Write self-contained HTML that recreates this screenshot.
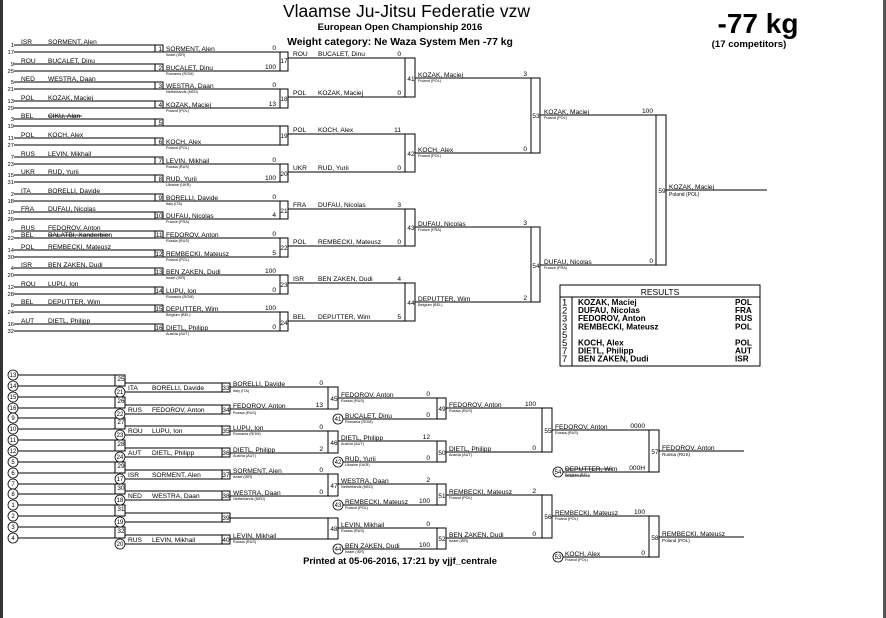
<!DOCTYPE html>
<html><head><meta charset="utf-8"><style>
html,body{margin:0;padding:0;background:#fff}
svg{display:block}
text{font-family:"Liberation Sans",Arial,sans-serif;fill:#000}
.n{font-size:6.6px}
.c{font-size:3.8px}
.b{font-size:6.4px}
.s{font-size:6.6px;text-anchor:end}
.bn{font-size:6.4px;text-anchor:middle}
</style></head><body>
<svg width="886" height="618" viewBox="0 0 886 618" xmlns="http://www.w3.org/2000/svg">
<rect x="0" y="0" width="886" height="618" fill="#fff"/>
<rect x="0" y="0" width="3" height="618" fill="#333"/>
<rect x="883" y="0" width="3" height="618" fill="#555"/>

<!-- header -->
<text x="283" y="17" style="font-size:17.5px">Vlaamse Ju-Jitsu Federatie vzw</text>
<text x="400" y="30" text-anchor="middle" style="font-size:9.6px;font-weight:bold">European Open Championship 2016</text>
<text x="400" y="45" text-anchor="middle" style="font-size:10.4px;font-weight:bold">Weight category: Ne Waza System Men -77 kg</text>
<text x="758" y="33" text-anchor="middle" style="font-size:28px;font-weight:bold">-77 kg</text>
<text x="749" y="47" text-anchor="middle" style="font-size:9.6px;font-weight:bold">(17 competitors)</text>

<g stroke="#000" stroke-width="1" fill="none" shape-rendering="crispEdges">
<path d="M14 45H155M14 52H163M14 64H155M14 71H163M14 82H155M14 89H163M14 101H155M14 108H163M14 119H155M14 126H163M14 138H155M14 145H163M14 157H155M14 164H163M14 175H155M14 182H163M14 194H155M14 201H163M14 212H155M14 219H163M14 231H155M14 238H163M14 250H155M14 257H163M14 268H155M14 275H163M14 287H155M14 294H163M14 305H155M14 312H163M14 324H155M14 331H163"/>
<rect x="155" y="45" width="8" height="7"/><rect x="155" y="64" width="8" height="7"/><rect x="155" y="82" width="8" height="7"/><rect x="155" y="101" width="8" height="7"/><rect x="155" y="119" width="8" height="7"/><rect x="155" y="138" width="8" height="7"/><rect x="155" y="157" width="8" height="7"/><rect x="155" y="175" width="8" height="7"/><rect x="155" y="194" width="8" height="7"/><rect x="155" y="212" width="8" height="7"/><rect x="155" y="231" width="8" height="7"/><rect x="155" y="250" width="8" height="7"/><rect x="155" y="268" width="8" height="7"/><rect x="155" y="287" width="8" height="7"/><rect x="155" y="305" width="8" height="7"/><rect x="155" y="324" width="8" height="7"/>
<path d="M163 52H280M163 71H280M163 89H280M163 108H280M163 126H280M163 145H280M163 164H280M163 182H280M163 201H280M163 219H280M163 238H280M163 257H280M163 275H280M163 294H280M163 312H280M163 331H280"/>
<rect x="280" y="52" width="8" height="19"/><rect x="280" y="89" width="8" height="19"/><rect x="280" y="126" width="8" height="19"/><rect x="280" y="164" width="8" height="18"/><rect x="280" y="201" width="8" height="18"/><rect x="280" y="238" width="8" height="19"/><rect x="280" y="275" width="8" height="19"/><rect x="280" y="312" width="8" height="19"/>
<path d="M288 58H405M288 97H405M288 134H405M288 172H405M288 209H405M288 246H405M288 283H405M288 321H405"/>
<rect x="405" y="58" width="10" height="39"/><rect x="405" y="134" width="10" height="38"/><rect x="405" y="209" width="10" height="37"/><rect x="405" y="283" width="10" height="38"/>
<path d="M415 78H531M415 153H531M415 227H531M415 302H531"/>
<rect x="531" y="78" width="9" height="75"/><rect x="531" y="227" width="9" height="75"/>
<path d="M540 115H656M540 265H656"/>
<rect x="656" y="115" width="10" height="150"/>
<path d="M666 190H767"/>

<rect x="560" y="285" width="200" height="81"/>
<path d="M560 297H760M572 297V366"/>

<g>
<path d="M18 375H115M18 386H115M18 397H115M18 408H115M18 418H115M18 429H115M18 440H115M18 451H115M18 462H115M18 473H115M18 484H115M18 494H115M18 505H115M18 516H115M18 527H115M18 538H115"/>
<rect x="115" y="375" width="10" height="11"/><rect x="115" y="397" width="10" height="11"/><rect x="115" y="418" width="10" height="11"/><rect x="115" y="440" width="10" height="11"/><rect x="115" y="462" width="10" height="11"/><rect x="115" y="484" width="10" height="10"/><rect x="115" y="505" width="10" height="11"/><rect x="115" y="527" width="10" height="11"/>
<path d="M125 383H222M125 392H222M125 405H222M125 414H222M125 426H222M125 435H222M125 448H222M125 457H222M125 470H222M125 479H222M125 491H222M125 500H222M125 513H222M125 522H222M125 535H222M125 544H222"/>
<rect x="222" y="383" width="8" height="9"/><rect x="222" y="405" width="8" height="9"/><rect x="222" y="426" width="8" height="9"/><rect x="222" y="448" width="8" height="9"/><rect x="222" y="470" width="8" height="9"/><rect x="222" y="491" width="8" height="9"/><rect x="222" y="513" width="8" height="9"/><rect x="222" y="535" width="8" height="9"/>
<path d="M230 387H328M230 409H328M230 431H328M230 453H328M230 474H328M230 496H328M230 518H328M230 539H328"/>
<rect x="328" y="387" width="10" height="22"/><rect x="328" y="431" width="10" height="22"/><rect x="328" y="474" width="10" height="22"/><rect x="328" y="518" width="10" height="21"/>
<path d="M338 398H437M343 419H437M338 441H437M343 462H437M338 484H437M343 505H437M338 528H437M343 549H437"/>
<rect x="437" y="398" width="9" height="21"/><rect x="437" y="441" width="9" height="21"/><rect x="437" y="484" width="9" height="21"/><rect x="437" y="528" width="9" height="21"/>
<path d="M446 408H542M446 452H542M446 495H542M446 538H542"/>
<rect x="542" y="408" width="10" height="44"/><rect x="542" y="495" width="10" height="43"/>
<path d="M552 430H649M563 472H649M552 516H649M563 557H649"/>
<rect x="649" y="430" width="10" height="42"/><rect x="649" y="516" width="10" height="41"/>
<path d="M659 451H744M659 537H744"/>
</g>
</g>
<g stroke="#000" stroke-width="0.8" fill="#fff">
<circle cx="13" cy="375" r="5"/><circle cx="13" cy="386" r="5"/><circle cx="13" cy="397" r="5"/><circle cx="13" cy="408" r="5"/><circle cx="13" cy="418" r="5"/><circle cx="13" cy="429" r="5"/><circle cx="13" cy="440" r="5"/><circle cx="13" cy="451" r="5"/><circle cx="13" cy="462" r="5"/><circle cx="13" cy="473" r="5"/><circle cx="13" cy="484" r="5"/><circle cx="13" cy="494" r="5"/><circle cx="13" cy="505" r="5"/><circle cx="13" cy="516" r="5"/><circle cx="13" cy="527" r="5"/><circle cx="13" cy="538" r="5"/>
<circle cx="120" cy="392" r="5"/><circle cx="120" cy="414" r="5"/><circle cx="120" cy="435" r="5"/><circle cx="120" cy="457" r="5"/><circle cx="120" cy="479" r="5"/><circle cx="120" cy="500" r="5"/><circle cx="120" cy="522" r="5"/><circle cx="120" cy="544" r="5"/>
<circle cx="338" cy="419" r="5"/><circle cx="338" cy="462" r="5"/><circle cx="338" cy="505" r="5"/><circle cx="338" cy="549" r="5"/>
<circle cx="558" cy="472" r="5"/><circle cx="558" cy="557" r="5"/>
</g>
<g class="bn" style="font-size:6px;text-anchor:middle">
<text x="13" y="377">13</text><text x="13" y="388">14</text><text x="13" y="399">15</text><text x="13" y="410">16</text><text x="13" y="420">9</text><text x="13" y="431">10</text><text x="13" y="442">11</text><text x="13" y="453">12</text><text x="13" y="464">5</text><text x="13" y="475">6</text><text x="13" y="486">7</text><text x="13" y="496">8</text><text x="13" y="507">1</text><text x="13" y="518">2</text><text x="13" y="529">3</text><text x="13" y="540">4</text>
<text x="120" y="394">21</text><text x="120" y="416">22</text><text x="120" y="437">23</text><text x="120" y="459">24</text><text x="120" y="481">17</text><text x="120" y="502">18</text><text x="120" y="524">19</text><text x="120" y="546">20</text>
<text x="338" y="421">41</text><text x="338" y="464">42</text><text x="338" y="507">43</text><text x="338" y="551">44</text>
<text x="558" y="474">54</text><text x="558" y="559">53</text>
</g>

<g class="n">
<g text-anchor="end" style="font-size:5.8px">
<text x="14" y="47">1</text><text x="14" y="54">17</text><text x="14" y="66">9</text><text x="14" y="73">25</text><text x="14" y="84">5</text><text x="14" y="91">21</text><text x="14" y="103">13</text><text x="14" y="110">29</text><text x="14" y="121">3</text><text x="14" y="128">19</text><text x="14" y="140">11</text><text x="14" y="147">27</text><text x="14" y="159">7</text><text x="14" y="166">23</text><text x="14" y="177">15</text><text x="14" y="184">31</text><text x="14" y="196">2</text><text x="14" y="203">18</text><text x="14" y="214">10</text><text x="14" y="221">26</text><text x="14" y="233">6</text><text x="14" y="240">22</text><text x="14" y="252">14</text><text x="14" y="259">30</text><text x="14" y="270">4</text><text x="14" y="277">20</text><text x="14" y="289">12</text><text x="14" y="296">28</text><text x="14" y="307">8</text><text x="14" y="314">24</text><text x="14" y="326">16</text><text x="14" y="333">32</text>
</g>
<text x="21" y="44">ISR</text><text x="48" y="44">SORMENT, Alen</text>
<text x="21" y="63">ROU</text><text x="48" y="63">BUCALET, Dinu</text>
<text x="21" y="81">NED</text><text x="48" y="81">WESTRA, Daan</text>
<text x="21" y="100">POL</text><text x="48" y="100">KOZAK, Maciej</text>
<text x="21" y="118">BEL</text><text x="48" y="118">CIKU, Alan</text>
<text x="21" y="137">POL</text><text x="48" y="137">KOCH, Alex</text>
<text x="21" y="156">RUS</text><text x="48" y="156">LEVIN, Mikhail</text>
<text x="21" y="174">UKR</text><text x="48" y="174">RUD, Yurii</text>
<text x="21" y="193">ITA</text><text x="48" y="193">BORELLI, Davide</text>
<text x="21" y="211">FRA</text><text x="48" y="211">DUFAU, Nicolas</text>
<text x="21" y="230">RUS</text><text x="48" y="230">FEDOROV, Anton</text>
<text x="21" y="237">BEL</text><text x="48" y="237">BALATBI, Xanderbien</text>
<text x="21" y="249">POL</text><text x="48" y="249">REMBECKI, Mateusz</text>
<text x="21" y="267">ISR</text><text x="48" y="267">BEN ZAKEN, Dudi</text>
<text x="21" y="286">ROU</text><text x="48" y="286">LUPU, Ion</text>
<text x="21" y="304">BEL</text><text x="48" y="304">DEPUTTER, Wim</text>
<text x="21" y="323">AUT</text><text x="48" y="323">DIETL, Philipp</text>
</g>
<path d="M48 116H82M48 235H110" stroke="#000" stroke-width="0.7"/>

<g class="b" text-anchor="end">
<text x="162" y="51">1</text><text x="162" y="70">2</text><text x="162" y="88">3</text><text x="162" y="107">4</text><text x="162" y="125">5</text><text x="162" y="144">6</text><text x="162" y="163">7</text><text x="162" y="181">8</text><text x="162" y="200">9</text><text x="162.5" y="218">10</text><text x="162.5" y="237">11</text><text x="162.5" y="256">12</text><text x="162.5" y="274">13</text><text x="162.5" y="293">14</text><text x="162.5" y="311">15</text><text x="162.5" y="330">16</text>
</g>
<g class="n">
<text x="166" y="51">SORMENT, Alen</text><text x="166" y="70">BUCALET, Dinu</text><text x="166" y="88">WESTRA, Daan</text><text x="166" y="107">KOZAK, Maciej</text><text x="166" y="144">KOCH, Alex</text><text x="166" y="163">LEVIN, Mikhail</text><text x="166" y="181">RUD, Yurii</text><text x="166" y="200">BORELLI, Davide</text><text x="166" y="218">DUFAU, Nicolas</text><text x="166" y="237">FEDOROV, Anton</text><text x="166" y="256">REMBECKI, Mateusz</text><text x="166" y="274">BEN ZAKEN, Dudi</text><text x="166" y="293">LUPU, Ion</text><text x="166" y="311">DEPUTTER, Wim</text><text x="166" y="330">DIETL, Philipp</text>
</g>
<g class="c">
<text x="166" y="56">Israel (ISR)</text><text x="166" y="75">Romania (ROM)</text><text x="166" y="93">Netherlands (NED)</text><text x="166" y="112">Poland (POL)</text><text x="166" y="149">Poland (POL)</text><text x="166" y="168">Russia (RUS)</text><text x="166" y="186">Ukraine (UKR)</text><text x="166" y="205">Italy (ITA)</text><text x="166" y="223">France (FRA)</text><text x="166" y="242">Russia (RUS)</text><text x="166" y="261">Poland (POL)</text><text x="166" y="279">Israel (ISR)</text><text x="166" y="298">Romania (ROM)</text><text x="166" y="316">Belgium (BEL)</text><text x="166" y="335">Austria (AUT)</text>
</g>
<g class="s">
<text x="276" y="50">0</text><text x="276" y="69">100</text><text x="276" y="87">0</text><text x="276" y="106">13</text><text x="276" y="162">0</text><text x="276" y="180">100</text><text x="276" y="199">0</text><text x="276" y="217">4</text><text x="276" y="236">0</text><text x="276" y="255">5</text><text x="276" y="273">100</text><text x="276" y="292">0</text><text x="276" y="310">100</text><text x="276" y="329">0</text>
</g>
<g class="b" text-anchor="end">
<text x="287.5" y="63">17</text><text x="287.5" y="101">18</text><text x="287.5" y="138">19</text><text x="287.5" y="176">20</text><text x="287.5" y="213">21</text><text x="287.5" y="250">22</text><text x="287.5" y="287">23</text><text x="287.5" y="325">24</text>
</g>
<g class="n">
<text x="293" y="56">ROU</text><text x="318" y="56">BUCALET, Dinu</text>
<text x="293" y="95">POL</text><text x="318" y="95">KOZAK, Maciej</text>
<text x="293" y="132">POL</text><text x="318" y="132">KOCH, Alex</text>
<text x="293" y="170">UKR</text><text x="318" y="170">RUD, Yurii</text>
<text x="293" y="207">FRA</text><text x="318" y="207">DUFAU, Nicolas</text>
<text x="293" y="244">POL</text><text x="318" y="244">REMBECKI, Mateusz</text>
<text x="293" y="281">ISR</text><text x="318" y="281">BEN ZAKEN, Dudi</text>
<text x="293" y="319">BEL</text><text x="318" y="319">DEPUTTER, Wim</text>
</g>
<g class="s">
<text x="401" y="56">0</text><text x="401" y="95">0</text><text x="401" y="132">11</text><text x="401" y="170">0</text><text x="401" y="207">3</text><text x="401" y="244">0</text><text x="401" y="281">4</text><text x="401" y="319">5</text>
</g>
<g class="b" text-anchor="end">
<text x="414.5" y="81">41</text><text x="414.5" y="156">42</text><text x="414.5" y="230">43</text><text x="414.5" y="305">44</text>
<text x="539.5" y="118">53</text><text x="539.5" y="268">54</text><text x="665.5" y="193">59</text>
</g>
<g class="n">
<text x="418" y="77">KOZAK, Maciej</text><text x="418" y="152">KOCH, Alex</text><text x="418" y="226">DUFAU, Nicolas</text><text x="418" y="301">DEPUTTER, Wim</text>
<text x="544" y="114">KOZAK, Maciej</text><text x="544" y="264">DUFAU, Nicolas</text>
<text x="669" y="189" style="font-size:6.6px">KOZAK, Maciej</text>
</g>
<g class="c">
<text x="418" y="82">Poland (POL)</text><text x="418" y="157">Poland (POL)</text><text x="418" y="231">France (FRA)</text><text x="418" y="306">Belgium (BEL)</text>
<text x="544" y="119">Poland (POL)</text><text x="544" y="269">France (FRA)</text>
<text x="669" y="196" style="font-size:5px">Poland (POL)</text>
</g>
<g class="s">
<text x="527" y="76">3</text><text x="527" y="151">0</text><text x="527" y="225">3</text><text x="527" y="300">2</text>
<text x="653" y="113">100</text><text x="653" y="263">0</text>
</g>

<text x="660" y="295" text-anchor="middle" style="font-size:8.5px">RESULTS</text>
<g style="font-size:9.4px">
<text x="562" y="305.5">1</text><text x="562" y="313.6">2</text><text x="562" y="321.7">3</text><text x="562" y="329.8">3</text><text x="562" y="337.9">5</text><text x="562" y="346">5</text><text x="562" y="354.1">7</text><text x="562" y="362.2">7</text>
</g>
<g style="font-size:8.2px;font-weight:bold">
<text x="578" y="305">KOZAK, Maciej</text><text x="578" y="313.1">DUFAU, Nicolas</text><text x="578" y="321.2">FEDOROV, Anton</text><text x="578" y="329.3">REMBECKI, Mateusz</text><text x="578" y="345.5">KOCH, Alex</text><text x="578" y="353.6">DIETL, Philipp</text><text x="578" y="361.7">BEN ZAKEN, Dudi</text>
<text x="735" y="305">POL</text><text x="735" y="313.1">FRA</text><text x="735" y="321.2">RUS</text><text x="735" y="329.3">POL</text><text x="735" y="345.5">POL</text><text x="735" y="353.6">AUT</text><text x="735" y="361.7">ISR</text>
</g>

<g class="b" text-anchor="end">
<text x="124.5" y="381">25</text><text x="124.5" y="403">26</text><text x="124.5" y="424">27</text><text x="124.5" y="446">28</text><text x="124.5" y="468">29</text><text x="124.5" y="490">30</text><text x="124.5" y="511">31</text><text x="124.5" y="533">32</text>
<text x="229.5" y="390">33</text><text x="229.5" y="412">34</text><text x="229.5" y="433">35</text><text x="229.5" y="455">36</text><text x="229.5" y="477">37</text><text x="229.5" y="498">38</text><text x="229.5" y="520">39</text><text x="229.5" y="542">40</text>
<text x="337.5" y="401">45</text><text x="337.5" y="445">46</text><text x="337.5" y="488">47</text><text x="337.5" y="531">48</text>
<text x="445.5" y="411">49</text><text x="445.5" y="455">50</text><text x="445.5" y="498">51</text><text x="445.5" y="541">52</text>
<text x="551.5" y="433">55</text><text x="551.5" y="519">56</text>
<text x="658.5" y="454">57</text><text x="658.5" y="540">58</text>
</g>
<g class="n">
<text x="128" y="390">ITA</text><text x="152" y="390">BORELLI, Davide</text>
<text x="128" y="412">RUS</text><text x="152" y="412">FEDOROV, Anton</text>
<text x="128" y="433">ROU</text><text x="152" y="433">LUPU, Ion</text>
<text x="128" y="455">AUT</text><text x="152" y="455">DIETL, Philipp</text>
<text x="128" y="477">ISR</text><text x="152" y="477">SORMENT, Alen</text>
<text x="128" y="498">NED</text><text x="152" y="498">WESTRA, Daan</text>
<text x="128" y="542">RUS</text><text x="152" y="542">LEVIN, Mikhail</text>
<text x="233" y="386">BORELLI, Davide</text><text x="233" y="408">FEDOROV, Anton</text><text x="233" y="430">LUPU, Ion</text><text x="233" y="452">DIETL, Philipp</text><text x="233" y="473">SORMENT, Alen</text><text x="233" y="495">WESTRA, Daan</text><text x="233" y="538">LEVIN, Mikhail</text>
<text x="341" y="397">FEDOROV, Anton</text><text x="345" y="418">BUCALET, Dinu</text><text x="341" y="440">DIETL, Philipp</text><text x="345" y="461">RUD, Yurii</text><text x="341" y="483">WESTRA, Daan</text><text x="345" y="504">REMBECKI, Mateusz</text><text x="341" y="527">LEVIN, Mikhail</text><text x="345" y="548">BEN ZAKEN, Dudi</text>
<text x="449" y="407">FEDOROV, Anton</text><text x="449" y="451">DIETL, Philipp</text><text x="449" y="494">REMBECKI, Mateusz</text><text x="449" y="537">BEN ZAKEN, Dudi</text>
<text x="555" y="429">FEDOROV, Anton</text><text x="565" y="471">DEPUTTER, Wim</text><text x="555" y="515">REMBECKI, Mateusz</text><text x="565" y="556">KOCH, Alex</text>
<text x="662" y="450">FEDOROV, Anton</text><text x="662" y="536">REMBECKI, Mateusz</text>
</g>
<path d="M565 469H612M565 476H590" stroke="#000" stroke-width="0.7"/>
<g class="c">
<text x="233" y="392">Italy (ITA)</text><text x="233" y="414">Russia (RUS)</text><text x="233" y="435">Romania (ROM)</text><text x="233" y="457">Austria (AUT)</text><text x="233" y="478">Israel (ISR)</text><text x="233" y="500">Netherlands (NED)</text><text x="233" y="543">Russia (RUS)</text>
<text x="341" y="402">Russia (RUS)</text><text x="345" y="423">Romania (ROM)</text><text x="341" y="445">Austria (AUT)</text><text x="345" y="466">Ukraine (UKR)</text><text x="341" y="488">Netherlands (NED)</text><text x="345" y="509">Poland (POL)</text><text x="341" y="532">Russia (RUS)</text><text x="345" y="553">Israel (ISR)</text>
<text x="449" y="412">Russia (RUS)</text><text x="449" y="456">Austria (AUT)</text><text x="449" y="499">Poland (POL)</text><text x="449" y="542">Israel (ISR)</text>
<text x="555" y="434">Russia (RUS)</text><text x="565" y="476">Belgium (BEL)</text><text x="555" y="520">Poland (POL)</text><text x="565" y="561">Poland (POL)</text>
<text x="662" y="456" style="font-size:4.6px">Russia (RUS)</text><text x="662" y="542" style="font-size:4.6px">Poland (POL)</text>
</g>
<g class="s">
<text x="323" y="385">0</text><text x="323" y="407">13</text><text x="323" y="429">0</text><text x="323" y="451">2</text><text x="323" y="472">0</text><text x="323" y="494">0</text>
<text x="430" y="396">0</text><text x="430" y="417">0</text><text x="430" y="439">12</text><text x="430" y="460">0</text><text x="430" y="482">2</text><text x="430" y="503">100</text><text x="430" y="526">0</text><text x="430" y="547">100</text>
<text x="536" y="406">100</text><text x="536" y="450">0</text><text x="536" y="493">2</text><text x="536" y="536">0</text>
<text x="645" y="428">0000</text><text x="645" y="470">000H</text><text x="645" y="514">100</text><text x="645" y="555">0</text>
</g>

<text x="400" y="564" text-anchor="middle" style="font-size:9.4px;font-weight:bold">Printed at 05-06-2016, 17:21 by vjjf_centrale</text>
</svg>
</body></html>
